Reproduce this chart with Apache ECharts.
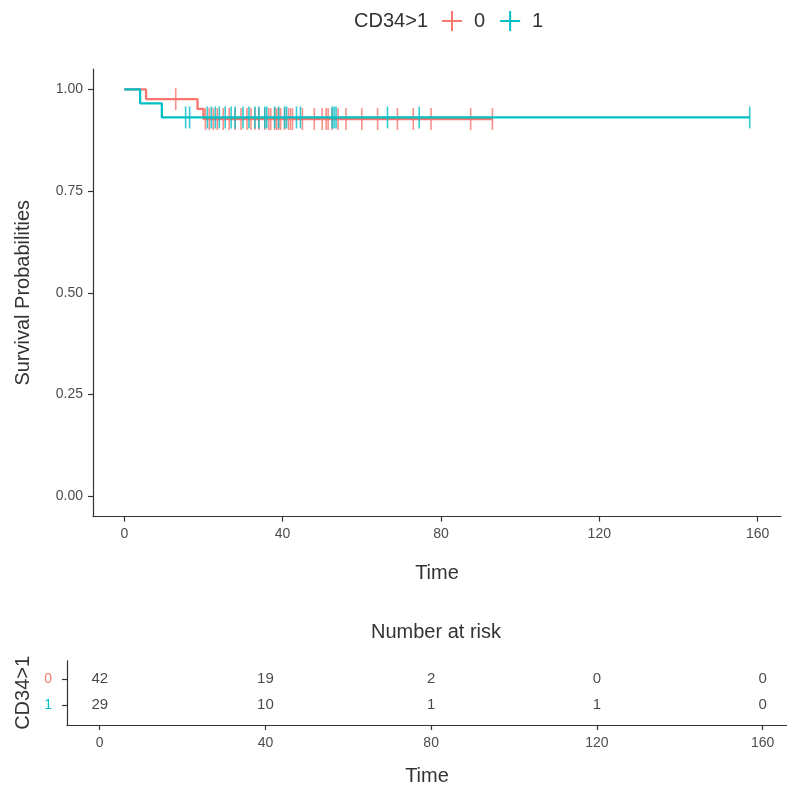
<!DOCTYPE html>
<html>
<head>
<meta charset="utf-8">
<script src="https://cdn.jsdelivr.net/npm/echarts@6/dist/echarts.min.js"></script>
<style>html,body{margin:0;padding:0;background:#fff;}#c{width:787px;height:787px;}</style>
</head>
<body>
<div id="c"></div>
<script>
// ---- data ----
var groups = ['0', '1'];
var stepTimes0 = [0, 5.5, 18.5, 20, 93];
var stepSurv0  = [1, 0.976, 0.952, 0.927, 0.927];
var stepTimes1 = [0, 4, 9.5, 158];
var stepSurv1  = [1, 0.9655, 0.931, 0.931];
var censor0 = [13, 20.5, 21.5, 22.5, 23.5, 25, 26.5, 28, 29.5, 31, 32, 33, 34, 35.5, 36.5, 37, 38, 38.5, 39, 39.5,
               40.5, 41.5, 42, 42.5, 45, 48, 50, 51, 51.5, 52.5, 54, 56, 60, 64, 69, 73, 77.5, 87.5, 93];
var censor1 = [15.5, 16.5, 21, 22, 23, 24, 25.5, 27, 28, 30, 31.5, 33, 34, 35.5, 36, 38, 39,
               40.5, 41, 43.5, 44.5, 52.5, 53, 53.5, 66.5, 74.5, 158];
var xTicks = [0, 40, 80, 120, 160];
var yTicks = [0, 0.25, 0.5, 0.75, 1];
var riskTimes = [0, 40, 80, 120, 160];
var risk0 = [42, 19, 2, 0, 0];
var risk1 = [29, 10, 1, 1, 0];

var colors = ['#F8766D', '#00BFC4'];
var FONT = 'Liberation Sans, Arial, sans-serif';
var TITLE = 20, TICK = 14;

function survAt(times, surv, t) {
  var s = surv[0];
  for (var i = 0; i < times.length; i++) { if (times[i] <= t) s = surv[i]; }
  return s;
}
function zip(a, b) { return a.map(function (v, i) { return [v, b[i]]; }); }

var steps = [zip(stepTimes0, stepSurv0), zip(stepTimes1, stepSurv1)];
var censors = [
  censor0.map(function (t) { return [t, survAt(stepTimes0, stepSurv0, t)]; }),
  censor1.map(function (t) { return [t, survAt(stepTimes1, stepSurv1, t)]; })
];
var riskRows = [risk0, risk1];
var rowY = [2, 1];

var plus = 'path://M0,9 L20,9 L20,11 L0,11 Z M9,0 L11,0 L11,20 L9,20 Z';

var series = [];
groups.forEach(function (g, i) {
  series.push({
    name: g, type: 'line', step: 'end', xAxisIndex: 0, yAxisIndex: 0,
    data: steps[i], showSymbol: false, symbol: 'none',
    lineStyle: { color: colors[i], width: 2.3 }, itemStyle: { color: colors[i] },
    silent: true, z: 2 + i
  });
  series.push({
    name: g, type: 'scatter', xAxisIndex: 0, yAxisIndex: 0,
    data: censors[i], symbol: 'rect', symbolSize: [1.6, 22],
    itemStyle: { color: colors[i] }, silent: true, z: 2 + i
  });
  series.push({
    type: 'scatter', xAxisIndex: 1, yAxisIndex: 1,
    data: riskTimes.map(function (t, k) { return [t, rowY[i], riskRows[i][k]]; }),
    symbolSize: 0, silent: true,
    label: { show: true, position: 'inside', color: '#1a1a1a', fontSize: TICK + 1, fontFamily: FONT,
      formatter: function (p) { return String(p.value[2]); } }
  });
});

var axisLineStyle = { color: '#333', width: 1.2 };
function xAx(idx, gap) {
  return { type: 'value', gridIndex: idx, min: -7.9, max: 165.9, name: 'Time', nameLocation: 'middle', nameGap: gap,
    nameTextStyle: { fontSize: TITLE, color: '#333', fontFamily: FONT },
    splitLine: { show: false }, axisLine: { onZero: false, lineStyle: axisLineStyle },
    axisTick: { show: true, length: 5, lineStyle: axisLineStyle, customValues: xTicks },
    axisLabel: { fontSize: TICK, color: '#4d4d4d', margin: 11, customValues: xTicks, fontFamily: FONT } };
}
var chart = echarts.init(document.getElementById('c'), null, { renderer: 'canvas' });
chart.setOption({
  animation: false,
  backgroundColor: '#fff',
  textStyle: { fontFamily: FONT },
  legend: {
    left: 442, top: 11, padding: 0, itemWidth: 20, itemHeight: 20, itemGap: 15,
    textStyle: { fontSize: TITLE, color: '#333', fontFamily: FONT, padding: [0, 0, 0, 7] },
    data: [{ name: '0', icon: plus, itemStyle: { color: colors[0] } },
           { name: '1', icon: plus, itemStyle: { color: colors[1] } }],
    selectedMode: false
  },
  graphic: [
    { type: 'text', x: 428, y: 21, style: { text: 'CD34>1', fontSize: TITLE, fill: '#333', fontFamily: FONT, align: 'right', verticalAlign: 'middle' } },
    { type: 'text', x: 436, y: 632, style: { text: 'Number at risk', fontSize: TITLE, fill: '#333', fontFamily: FONT, align: 'center', verticalAlign: 'middle' } }
  ],
  grid: [
    { left: 93, right: 6, top: 69, height: 447.6 },
    { left: 67, right: 0, top: 660.8, height: 66.2 }
  ],
  xAxis: [ xAx(0, 47), xAx(1, 41) ],
  yAxis: [
    { type: 'value', gridIndex: 0, min: -0.05, max: 1.05, name: 'Survival Probabilities', nameLocation: 'middle', nameGap: 60,
      nameTextStyle: { fontSize: TITLE, color: '#333', fontFamily: FONT },
      splitLine: { show: false }, axisLine: { show: true, onZero: false, lineStyle: axisLineStyle },
      axisTick: { show: true, length: 5, lineStyle: axisLineStyle, customValues: yTicks },
      axisLabel: { fontSize: TICK, color: '#4d4d4d', margin: 10, customValues: yTicks, fontFamily: FONT,
        formatter: function (v) { return v.toFixed(2); } } },
    { type: 'value', gridIndex: 1, min: 0.25, max: 2.7, name: 'CD34>1', nameLocation: 'middle', nameGap: 34,
      nameTextStyle: { fontSize: TITLE, color: '#333', fontFamily: FONT },
      splitLine: { show: false }, axisLine: { show: true, onZero: false, lineStyle: axisLineStyle },
      axisTick: { show: true, length: 5, lineStyle: axisLineStyle, customValues: rowY },
      axisLabel: { fontSize: TICK, margin: 15, customValues: rowY, fontFamily: FONT,
        formatter: function (v) { return v === 2 ? '{a|' + groups[0] + '}' : '{b|' + groups[1] + '}'; },
        rich: { a: { color: colors[0], fontSize: TICK, fontFamily: FONT }, b: { color: colors[1], fontSize: TICK, fontFamily: FONT } } } }
  ],
  series: series
});
</script>
</body>
</html>
